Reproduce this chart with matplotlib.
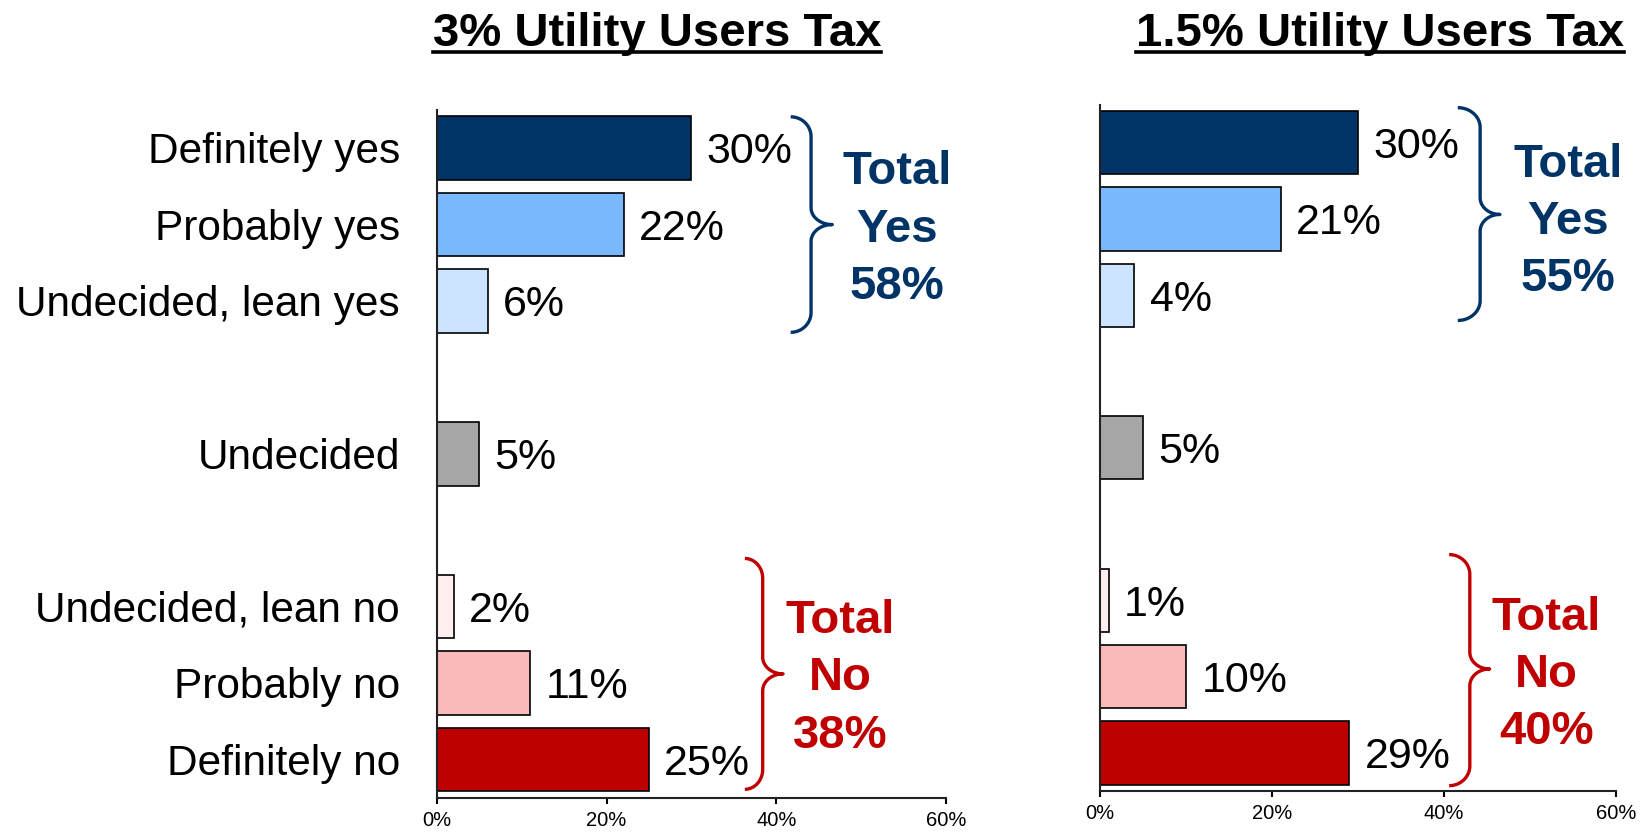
import numpy as np
import matplotlib
matplotlib.use('Agg')
import matplotlib.pyplot as plt
from matplotlib.lines import Line2D

# ---------------- data ----------------
categories = ['Definitely yes', 'Probably yes', 'Undecided, lean yes', 'Undecided',
              'Undecided, lean no', 'Probably no', 'Definitely no']
group_sizes = [3, 1, 3]
values_3pct = [30, 22, 6, 5, 2, 11, 25]
values_15pct = [30, 21, 4, 5, 1, 10, 29]
total_yes = [58, 55]
total_no = [38, 40]
titles = ['3% Utility Users Tax', '1.5% Utility Users Tax']
xticks = [0, 20, 40, 60]
xtick_labels = ['0%', '20%', '40%', '60%']
bar_colors = ['#003366', '#7AB9FF', '#CCE4FF', '#A6A6A6', '#FFEEEE', '#FBBABA', '#BC0000']
navy = '#003366'
red = '#C00000'

plt.rcParams['font.family'] = ['Liberation Sans', 'DejaVu Sans']

# slot positions with a blank slot between groups
ypos = []
p = 0
for g in group_sizes:
    for _ in range(g):
        ypos.append(p)
        p += 1
    p += 1

fig = plt.figure(figsize=(16.5, 8.33), dpi=100)
ax1 = fig.add_axes([0.2648, 0.0424, 0.3085, 0.8256])
ax2 = fig.add_axes([0.6667, 0.0504, 0.3127, 0.8240])


def brace(ax, x_tip, x_stem, x_point, y_top, y_bot, y_mid, color, ry=0.26, ry2=0.22):
    t = np.linspace(0, np.pi / 2, 30)
    rx = x_stem - x_tip
    rx2 = x_point - x_stem
    xs1 = x_tip + rx * np.sin(t)
    ys1 = (y_top + ry) - ry * np.cos(t)
    xs2 = x_point - rx2 * np.cos(t)
    ys2 = (y_mid - ry2) + ry2 * np.sin(t)
    xs3 = x_point - rx2 * np.cos(t[::-1])
    ys3 = (y_mid + ry2) - ry2 * np.sin(t[::-1])
    xs4 = x_tip + rx * np.sin(t[::-1])
    ys4 = (y_bot - ry) + ry * np.cos(t[::-1])
    xs = np.concatenate([xs1, xs2, xs3, xs4])
    ys = np.concatenate([ys1, ys2, ys3, ys4])
    ax.plot(xs, ys, color=color, lw=2.4, clip_on=False, solid_capstyle='butt')


def draw_panel(ax, values, show_labels):
    ax.barh(ypos, values, height=0.83, color=bar_colors, edgecolor='black', linewidth=1.2)
    ax.set_xlim(0, 60)
    ax.set_ylim(8.5, -0.5)
    for s in ['top', 'right']:
        ax.spines[s].set_visible(False)
    for s in ['left', 'bottom']:
        ax.spines[s].set_linewidth(1.5)
        ax.spines[s].set_color('#222222')
    ax.set_xticks(xticks)
    ax.set_xticklabels(xtick_labels, fontsize=14.5)
    ax.tick_params(axis='x', direction='out', length=4.5, width=1.5, pad=5)
    ax.set_yticks([])
    for v, yy in zip(values, ypos):
        ax.annotate(f'{v}%', xy=(v, yy), xytext=(11, -11), textcoords='offset points',
                    ha='left', va='baseline', fontsize=31)
    if show_labels:
        for lab, yy in zip(categories, ypos):
            ax.annotate(lab, xy=(0, yy), xycoords=('axes fraction', 'data'),
                        xytext=(-26.6, -11), textcoords='offset points',
                        ha='right', va='baseline', fontsize=30.5)


draw_panel(ax1, values_3pct, True)
draw_panel(ax2, values_15pct, False)

# braces
brace(ax1, 41.7, 44.1, 46.6, -0.41, 2.41, 1.0, navy)
brace(ax1, 36.3, 38.4, 40.8, 5.37, 8.39, 6.88, red)
brace(ax2, 41.6, 44.2, 46.5, -0.46, 2.33, 0.94, navy)
brace(ax2, 40.6, 43.0, 45.3, 5.40, 8.43, 6.90, red)


def total_text(ax, x, baselines, lines, color):
    for b, s in zip(baselines, lines):
        ax.text(x, b, s, ha='center', va='baseline', fontsize=34, fontweight='bold',
                color=color, clip_on=False)


total_text(ax1, 54.2, [0.47, 1.23, 1.97], ['Total', 'Yes', f'{total_yes[0]}%'], navy)
total_text(ax1, 47.5, [6.35, 7.09, 7.85], ['Total', 'No', f'{total_no[0]}%'], red)
total_text(ax2, 54.4, [0.45, 1.19, 1.95], ['Total', 'Yes', f'{total_yes[1]}%'], navy)
total_text(ax2, 51.9, [6.39, 7.14, 7.88], ['Total', 'No', f'{total_no[1]}%'], red)

# titles with underline
W, H = 1650, 833
title_objs = []
for tx, title in zip([657 / W, 1380 / W], titles):
    t = fig.text(tx, 1 - 46 / H, title, ha='center', va='baseline', fontsize=34,
                 fontweight='bold', color='black')
    title_objs.append(t)

fig.canvas.draw()
r = fig.canvas.get_renderer()
for t in title_objs:
    bb = t.get_window_extent(r)
    yl = (H - 51.5) / H
    fig.add_artist(Line2D([bb.x0 / W, bb.x1 / W], [yl, yl], transform=fig.transFigure,
                          color='black', lw=2.6))

fig.savefig('out.png', dpi=100)
